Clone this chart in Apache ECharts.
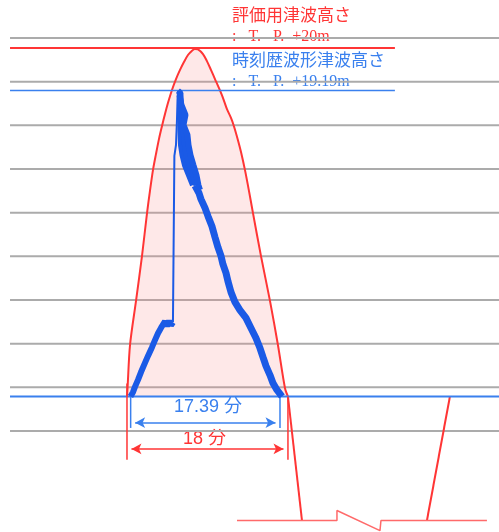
<!DOCTYPE html>
<html><head><meta charset="utf-8">
<script src="https://cdn.jsdelivr.net/npm/echarts@6/dist/echarts.min.js"></script>
<style>html,body{margin:0;padding:0;background:#fff}#c{width:499px;height:532px}</style>
</head><body><div id="c"></div>
<script>
// x: minutes, y: grid units (gray reference lines at integer levels)
const gridLevels = [0, 1, 2, 3, 4, 5, 6, 7, 8, 9];
const evalLevel = 8.77;   // 評価用津波高さ T.P.+20m
const histLevel = 7.80;   // 時刻歴波形津波高さ T.P.+19.19m
const baseLevel = 0.79;
const leftEnd = -13.08, rightEnd = 41.6, levelEnd = 29.96;

const envelope = [[0,0.79],[0.06,0.98],[0.34,1.97],[1.01,2.98],[1.68,4.01],[2.24,4.99],[2.57,5.50],[2.91,5.98],[3.24,6.34],[3.58,6.69],[3.91,6.98],[4.25,7.26],[4.58,7.51],[5.03,7.81],[5.48,8.06],[5.93,8.27],[6.37,8.45],[6.82,8.61],[7.27,8.71],[7.60,8.75],[7.94,8.74],[8.50,8.63],[8.94,8.47],[9.39,8.27],[9.84,8.06],[10.29,7.85],[10.73,7.63],[11.18,7.37],[11.63,7.17],[11.96,6.98],[12.41,6.66],[12.75,6.39],[13.19,5.98],[13.64,5.50],[14.09,4.99],[14.98,4.01],[15.99,2.98],[16.88,1.97],[17.67,0.98],[18,0.79]];
const envelopeFall = [[18,0.79],[19.57,-2.05]];
const envelopeRise = [[33.54,-2.05],[36.11,0.79]];
const breakAxis = [[12.30,-2.05],[23.48,-2.05],[23.48,-1.82],[28.29,-2.28],[28.40,-2.05],[40.25,-2.05]];

const waveRise = [[0.39,0.79],[0.67,0.89],[0.89,1.01],[1.23,1.17],[1.57,1.35],[2.01,1.56],[2.35,1.72],[2.80,1.92],[3.13,2.08],[3.47,2.24],[3.80,2.36],[4.02,2.40],[4.25,2.51],[4.47,2.40],[4.70,2.52],[4.92,2.42],[5.14,2.49]];
const waveJump = [[5.14,2.49],[5.25,2.50],[5.30,2.50],[5.30,6.30],[5.48,6.55],[5.59,7.12],[5.65,7.58],[5.70,7.79]];
const wavePeakLow = [[5.70,7.79],[5.98,7.74],[5.98,7.35],[5.98,6.89],[6.04,6.55],[6.21,6.32],[6.48,6.09],[6.93,5.86],[7.38,5.63]];
const wavePeakMid = [[5.93,7.69],[6.04,7.47],[6.26,7.24],[6.15,7.01],[6.37,6.78],[6.49,6.55],[6.65,6.32],[6.99,6.09],[7.38,5.86],[7.77,5.63]];
const wavePeakHigh = [[5.87,7.69],[6.09,7.47],[6.54,7.24],[6.32,7.01],[6.76,6.78],[6.88,6.55],[7.10,6.32],[7.43,6.09],[7.77,5.86],[7.99,5.63],[8.16,5.52]];
const waveFall = [[7.60,5.62],[8.05,5.45],[8.27,5.31],[8.72,5.11],[9.06,4.92],[9.50,4.69],[9.84,4.44],[10.17,4.21],[10.51,4.01],[10.73,3.82],[11.07,3.62],[11.29,3.43],[11.63,3.18],[12.08,2.95],[12.63,2.77],[13.30,2.59],[13.86,2.36],[14.42,2.13],[14.87,1.90],[15.21,1.69],[15.54,1.49],[15.99,1.28],[16.32,1.10],[16.77,0.94],[17.11,0.85],[17.33,0.79]];

const blueSpan = [0.41, 17.11];
const blueDim = { level: 0.19, low: 0.07, label: '17.39 分' };
const redSpan = [0, 18];
const redDim = { level: -0.41, low: -0.66, label: '18 分' };

const RED = '#ff3535', BLUE = '#3a80ee', WAVE = '#1a5ae6', GRAY = '#ababab';

function seg(data, color, width, z, extra) {
  return Object.assign({ type: 'line', data: data, showSymbol: false, symbol: 'none', silent: true, z: z,
    lineStyle: { color: color, width: width }, animation: false }, extra || {});
}

const series = [];
gridLevels.forEach(v => series.push(seg([[leftEnd, v], [rightEnd, v]], GRAY, 2, 1)));
series.push(seg(envelope, RED, 2, 3, { smooth: 0.3, areaStyle: { color: 'rgba(248,140,140,0.28)', origin: baseLevel } }));
series.push(seg(envelopeFall, RED, 2, 3));
series.push(seg(envelopeRise, RED, 2, 3));
series.push(seg(breakAxis, '#ff6a6a', 1.5, 3));
series.push(seg([[leftEnd, evalLevel], [levelEnd, evalLevel]], RED, 2, 4));
series.push(seg([[leftEnd, histLevel], [levelEnd, histLevel]], BLUE, 1.5, 4));
series.push(seg([[leftEnd, baseLevel], [rightEnd, baseLevel]], BLUE, 2, 4));
series.push(seg(waveRise, WAVE, 6, 5));
series.push(seg(waveJump, WAVE, 2, 5));
series.push(seg(wavePeakLow, WAVE, 6, 5));
series.push(seg(wavePeakMid, WAVE, 6, 5));
series.push(seg(wavePeakHigh, WAVE, 6, 5));
series.push(seg(waveFall, WAVE, 7, 5));
// dimension extension lines
series.push(seg([[blueSpan[0], baseLevel], [blueSpan[0], blueDim.low]], BLUE, 1.5, 4));
series.push(seg([[blueSpan[1], baseLevel], [blueSpan[1], blueDim.low]], BLUE, 1.5, 4));
series.push(seg([[redSpan[0], baseLevel + 0.3], [redSpan[0], redDim.low]], RED, 1.5, 4));
series.push(seg([[redSpan[1], baseLevel], [redSpan[1], redDim.low]], RED, 1.5, 4));
// dimension arrows
function dimArrow(span, level, color) {
  return { type: 'line', data: [], silent: true, animation: false,
    markLine: { silent: true, animation: false, symbol: ['arrow', 'arrow'], symbolSize: [8, 10],
      label: { show: false }, lineStyle: { color: color, width: 1.5, type: 'solid' },
      data: [[{ coord: [span[0] + 0.5, level] }, { coord: [span[1] - 0.5, level] }]] } };
}
series.push(dimArrow(blueSpan, blueDim.level, BLUE));
series.push(dimArrow(redSpan, redDim.level, RED));

const chart = echarts.init(document.getElementById('c'));
chart.setOption({
  animation: false,
  grid: { left: 0, right: 0, top: 0, bottom: 0 },
  xAxis: { type: 'value', min: -14.2, max: 41.6, show: false },
  yAxis: { type: 'value', min: -2.313, max: 9.87, show: false },
  series: series,
  graphic: [
    { type: 'text', left: 232, top: 6, style: { text: '評価用津波高さ', fill: RED, font: '17px "Noto Sans CJK JP"' } },
    { type: 'text', left: 232, top: 29, style: { text: ':   T.   P.  +20m', fill: RED, font: '16px "Liberation Serif"' } },
    { type: 'text', left: 232, top: 51, style: { text: '時刻歴波形津波高さ', fill: BLUE, font: '17px "Noto Sans CJK JP"' } },
    { type: 'text', left: 232, top: 74, style: { text: ':   T.   P.  +19.19m', fill: BLUE, font: '16px "Liberation Serif"' } },
    { type: 'text', left: 174, top: 398, style: { text: blueDim.label, fill: BLUE, font: '18px "Liberation Sans", "Noto Sans CJK JP"' } },
    { type: 'text', left: 183, top: 430, style: { text: redDim.label, fill: RED, font: '18px "Liberation Sans", "Noto Sans CJK JP"' } }
  ]
});
</script></body></html>
